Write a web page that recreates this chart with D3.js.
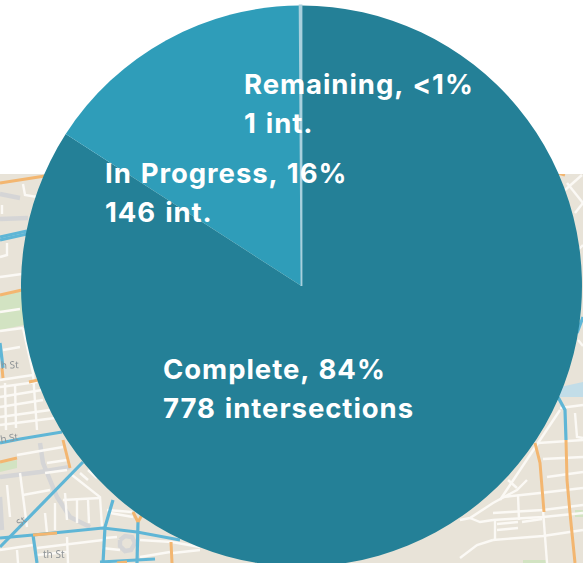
<!DOCTYPE html>
<html><head><meta charset="utf-8">
<script src="https://cdn.jsdelivr.net/npm/d3@7"></script>
<style>html,body{margin:0;padding:0;background:#fff}svg{display:block}</style>
</head><body><svg id="c" width="583" height="563"></svg>
<script>
const categories=["Complete","In Progress","Remaining"];
const intersections=[778,146,1];
const sliceColors=["#248097","#2f9db9","#a9d0dd"];
const labelLines=[["Complete, 84%","778 intersections"],["In Progress, 16%","146 int."],["Remaining, <1%","1 int."]];
const labelAnchors=[[163,379],[105,183],[244,94]];
const blueRoads=[
 [[0,237],[27,231]],[[0,240],[27,234]],[[0,343],[3,368]],[[0,443],[20,439],[62,432]],
 [[0,547],[83,462]],[[0,538],[33,535],[103,528],[137,532],[180,540]],
 [[33,535],[37,563]],[[113,500],[105,527],[103,563]],[[138,522],[137,563]],[[100,562],[155,559]],
 [[558,397],[565,410],[566,440]],[[583,317],[577,333]]];
const orangeRoads=[
 [[0,183],[45,176]],[[0,295],[22,290]],[[2,368],[3,378]],[[29,382],[38,380]],[[63,440],[70,468]],
 [[0,462],[17,458]],[[33,535],[57,533]],[[133,512],[138,522]],[[142,515],[138,522]],[[171,542],[172,563]],[[117,563],[127,562]],
 [[535,443],[540,463],[544,512]],[[566,440],[567,480],[570,513],[575,563]],[[558,173],[565,175]]];
const whiteStreets=[
 [[23,184],[25,195],[37,197]],[[0,257],[7,255],[7,243]],[[2,205],[2,214]],[[0,277],[22,274]],
 [[0,312],[20,309]],[[0,331],[23,328]],[[3,350],[20,347]],[[0,380],[33,375]],[[0,387],[37,382]],
 [[0,397],[42,390]],[[0,407],[43,400]],[[0,417],[50,410]],[[0,425],[55,418]],
 [[23,328],[33,373],[37,430]],[[5,383],[6,430]],[[15,384],[16,428]],
 [[17,455],[63,447]],[[47,463],[67,460]],[[45,473],[67,470]],[[23,495],[50,490]],[[20,473],[27,527]],
 [[7,485],[10,517]],[[45,513],[47,533]],[[55,503],[55,530]],[[65,493],[67,520]],[[77,498],[77,523]],
 [[88,500],[89,523]],[[63,500],[100,498]],[[72,475],[100,497],[102,527]],[[80,473],[88,480]],[[88,470],[97,478]],
 [[0,550],[33,545]],[[37,548],[103,540]],[[37,555],[67,552]],[[67,537],[68,563]],[[17,550],[18,563]],
 [[107,510],[132,512]],[[110,513],[133,517]],[[140,540],[172,542],[200,547]],[[140,557],[170,552]],[[173,553],[200,550]],
 [[102,548],[120,550]],[[105,538],[117,537]],
 [[565,190],[582,175]],[[575,213],[583,203]],[[567,183],[583,203]],[[578,250],[583,245]],[[578,340],[583,346]],
 [[560,408],[583,405]],[[575,413],[577,437],[583,438]],[[538,443],[583,440]],[[543,459],[583,457]],[[547,477],[583,472]],
 [[500,500],[560,410]],[[503,497],[540,493],[583,488]],[[493,513],[543,510],[583,505]],[[493,520],[543,517],[583,513]],
 [[493,540],[543,536],[583,530]],[[518,495],[519,520]],[[543,510],[547,563]],
 [[460,520],[470,518],[493,503],[517,490],[527,480]],[[470,518],[480,522],[493,520]],
 [[460,558],[477,545],[493,540]],[[497,524],[518,522]],[[497,530],[518,528]],[[522,522],[542,519]],[[495,520],[495,540]],[[508,480],[517,488]]];
const greyStreets=[
 [[0,219],[28,218]],[[0,194],[20,198]],[[0,477],[40,472],[70,467]],[[40,443],[43,463],[57,497],[70,517],[90,527]],[[0,497],[2,530]],
 [[120,540],[125,536],[132,537],[135,543],[131,550],[125,551],[120,546],[120,540]]];
const parks=[[[0,296],[22,291],[24,325],[0,330]],[[0,463],[17,460],[17,468],[0,472]],[[523,560],[547,560],[547,563],[523,563]],[[575,510],[583,510],[583,517],[575,517]]];
const water=[[[560,387],[583,382],[583,397],[560,397]]];
const mapLabels=[["h St",1,369,-3],["h St",1,443,-10],["St",20,527,-40],["th St",43,558,0]];

const W=583,H=563,cx=301.5,cy=286,R=280.5,mapTop=174;
const svg=d3.select("#c");
const defs=svg.append("defs");
defs.append("filter").attr("id","soft").append("feGaussianBlur").attr("stdDeviation",0.7);
defs.append("clipPath").attr("id","mapclip").append("rect").attr("x",0).attr("y",mapTop).attr("width",W).attr("height",H-mapTop);
const map=svg.append("g").attr("clip-path","url(#mapclip)").append("g").attr("filter","url(#soft)");
map.append("rect").attr("x",-4).attr("y",mapTop).attr("width",W+8).attr("height",H-mapTop+4).attr("fill","#e8e3d8");
const line=d3.line();
const poly=d3.line().curve(d3.curveLinearClosed);
map.selectAll(".park").data(parks).join("path").attr("d",poly).attr("fill","#d2e3c2");
map.selectAll(".water").data(water).join("path").attr("d",poly).attr("fill","#c2dde8");
const roads=(data,color,w)=>map.append("g").selectAll("path").data(data).join("path").attr("d",line).attr("fill","none").attr("stroke",color).attr("stroke-width",w);
roads(greyStreets,"#d5d5d6",4.5);
roads(whiteStreets,"#fbf9f5",2.4);
roads(blueRoads,"#5fb6d6",3.2);
roads(orangeRoads,"#f3b670",3);
map.append("g").selectAll("text").data(mapLabels).join("text").text(d=>d[0])
 .attr("transform",d=>`translate(${d[1]},${d[2]}) rotate(${d[3]})`)
 .attr("font-family","Noto Sans").attr("font-size",10).attr("fill","#8f9497");

const pie=d3.pie().sort(null).value(d=>d);
const arc=d3.arc().innerRadius(0).outerRadius(R);
const g=svg.append("g").attr("transform",`translate(${cx},${cy})`);
g.selectAll("path").data(pie(intersections)).join("path").attr("d",arc)
 .attr("fill",(d,i)=>sliceColors[i])
 .attr("stroke",(d,i)=>i===2?sliceColors[i]:"none").attr("stroke-width",(d,i)=>i===2?1.8:0);

const labels=svg.append("g").attr("font-family","Inter").attr("font-weight",700).attr("font-size",27.5).attr("letter-spacing",0.95).attr("word-spacing",1.5).attr("fill","#fff");
labelLines.forEach((ls,i)=>ls.forEach((t,j)=>labels.append("text").attr("x",labelAnchors[i][0]).attr("y",labelAnchors[i][1]+j*39).text(t)));
</script></body></html>
